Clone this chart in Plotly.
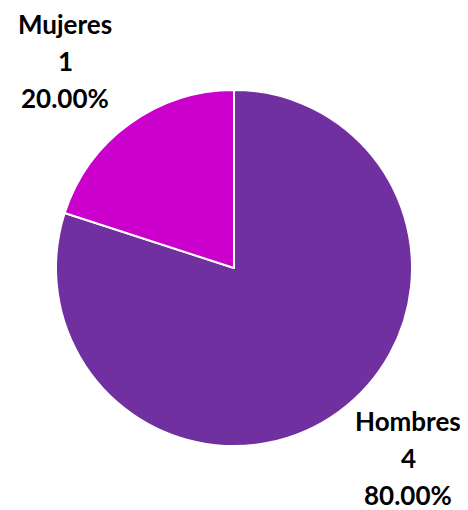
import plotly.graph_objects as go

labels = ["Hombres", "Mujeres"]
values = [4, 1]
colors = ["#7030A0", "#CC00CC"]

total = sum(values)
lines = [[l, f"{v}", f"{v / total * 100:.2f}%"] for l, v in zip(labels, values)]

OFF = 8  # page body margin
W, H = 468 - OFF, 510 - OFF
cx, cy, rad = 234 - OFF, 268 - OFF, 178
L, T = cx - rad, cy - rad
R, B = W - (cx + rad), H - (cy + rad)
pw, ph = W - L - R, H - T - B

def px(x, y):
    return (x - OFF - L) / pw, (H - B - (y - OFF)) / ph

fig = go.Figure(go.Pie(
    labels=labels, values=values, sort=False, direction="clockwise", rotation=0,
    marker=dict(colors=colors, line=dict(color="white", width=2)),
    textinfo="none", hoverinfo="label+value+percent", showlegend=False,
))

positions = [(408, [421, 458, 495]), (65, [24, 61, 98])]
for ls, (x, ys) in zip(lines, positions):
    for t, y in zip(ls, ys):
        ax, ay = px(x, y)
        fig.add_annotation(x=ax, y=ay, xref="paper", yref="paper", text=t, showarrow=False,
                           xanchor="center", yanchor="middle", align="center",
                           font=dict(family="Lato", size=26, color="#000000", weight=700))

fig.update_layout(width=W, height=H, margin=dict(l=L, r=R, t=T, b=B),
                  paper_bgcolor="white", plot_bgcolor="white")
fig.write_html("out.html")
